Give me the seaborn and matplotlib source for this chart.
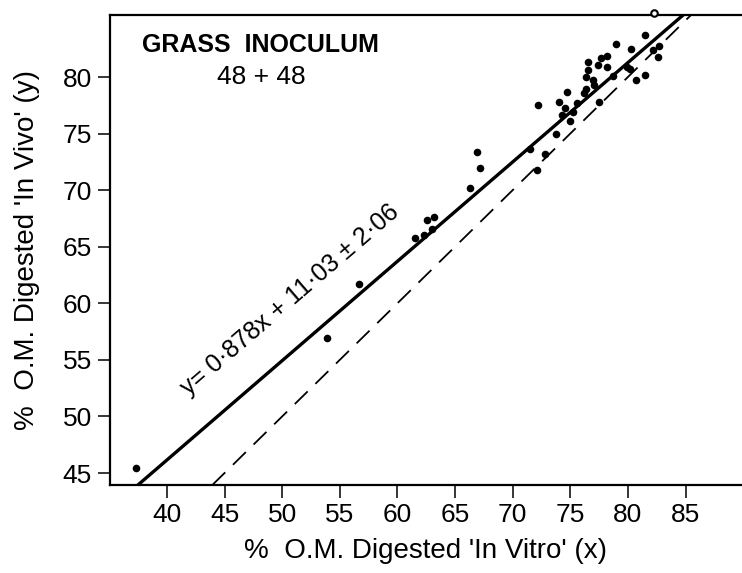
import numpy as np
import pandas as pd
import seaborn as sns
import matplotlib.pyplot as plt

# % O.M. digested in vitro (x) and in vivo (y)
in_vitro = [37.3, 53.9, 56.7, 61.5, 62.3, 62.6, 63.2, 63.0, 66.3, 66.9, 67.2,
            71.5, 72.1, 72.8, 72.2, 73.8, 74.0, 74.5, 74.7, 74.3, 75.0, 75.6,
            76.4, 76.4, 76.5, 76.5, 77.0, 77.1, 77.4, 77.7, 78.2, 78.2, 77.5,
            78.7, 79.0, 79.9, 80.3, 80.2, 80.7, 81.5, 81.5, 82.2, 82.7, 82.6,
            76.2, 75.2]
in_vivo = [45.4, 56.9, 61.7, 65.8, 66.0, 67.4, 67.6, 66.6, 70.2, 73.4, 72.0,
           73.6, 71.8, 73.2, 77.5, 75.0, 77.8, 77.3, 78.7, 76.6, 76.1, 77.7,
           78.9, 80.0, 80.6, 81.3, 79.7, 79.3, 81.1, 81.7, 80.9, 81.9, 77.8,
           80.1, 82.9, 80.9, 82.5, 80.7, 79.7, 80.2, 83.7, 82.4, 82.7, 81.8,
           78.6, 76.9]
open_x = [82.3]
open_y = [85.7]

slope = 0.878
intercept = 11.03
x_ticks = [40, 45, 50, 55, 60, 65, 70, 75, 80, 85]
y_ticks = [45, 50, 55, 60, 65, 70, 75, 80]

sns.set_style("ticks")
plt.rcParams['font.family'] = ['Liberation Sans', 'DejaVu Sans']
plt.rcParams['text.color'] = 'black'
plt.rcParams['axes.labelcolor'] = 'black'
plt.rcParams['xtick.color'] = 'black'
plt.rcParams['ytick.color'] = 'black'

df = pd.DataFrame({"x": in_vitro, "y": in_vivo})

fig = plt.figure(figsize=(7.42, 5.73), dpi=100)
ax = fig.add_axes([110 / 742, 88 / 573, 632 / 742, 470 / 573])

sns.scatterplot(data=df, x="x", y="y", ax=ax, color="black", s=30,
                edgecolor="black", linewidth=0, zorder=3)
ax.scatter(open_x, open_y, s=22, facecolor="white", edgecolor="black",
           linewidth=1.5, zorder=4, clip_on=False)

# fitted regression and the 1:1 line
ax.axline((0, intercept), slope=slope, color="black", lw=2.4)
ax.axline((0, 0), slope=1, color="black", lw=1.3, dashes=(10, 6))

ax.set_xlim(35.06, 89.9)
ax.set_ylim(43.94, 85.48)
ax.set_xticks(x_ticks)
ax.set_yticks(y_ticks)
ax.tick_params(axis="both", direction="out", length=9, width=1.1,
               labelsize=19, pad=4)

for side in ["left", "bottom", "top"]:
    ax.spines[side].set_linewidth(1.6)
    ax.spines[side].set_color("black")
ax.spines["right"].set_visible(False)

ax.set_xlabel("%  O.M. Digested 'In Vitro' (x)", fontsize=20, labelpad=8)
ax.set_ylabel("%  O.M. Digested 'In Vivo' (y)", fontsize=20, labelpad=16)

ax.text(37.8, 82.8, "GRASS  INOCULUM", fontsize=18, fontweight="bold",
        ha="left", va="center")
ax.text(48.2, 80.0, "48 + 48", fontsize=19, ha="center", va="center")
ax.text(50.7, 60.3, "y= 0·878x + 11·03 ± 2·06", fontsize=18, rotation=40.7,
        rotation_mode="anchor", ha="center", va="center")

plt.savefig("out.png", dpi=100)
